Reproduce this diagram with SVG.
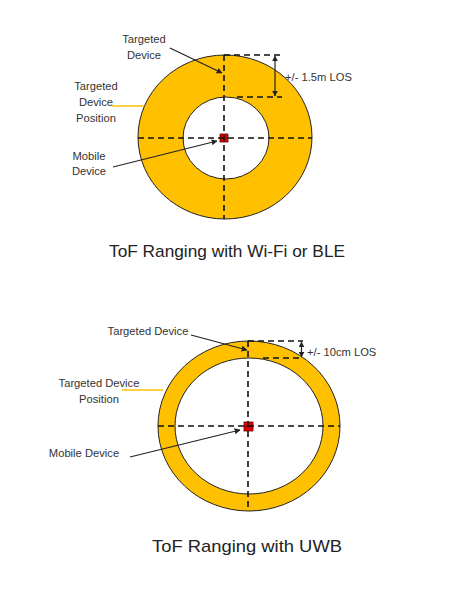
<svg xmlns="http://www.w3.org/2000/svg" width="458" height="592" viewBox="0 0 458 592">
<style>
.ring{fill:#FFC000;stroke:#222;stroke-width:1}
.hole{fill:#fff;stroke:#222;stroke-width:1}
.dash{stroke:#111;stroke-width:1.6;stroke-dasharray:6 4;fill:none}
.lbl{font-family:"Liberation Sans",Arial,sans-serif;font-size:11.2px;fill:#333;text-anchor:middle}
.title{font-family:"Liberation Sans",Arial,sans-serif;font-size:17px;fill:#222;text-anchor:middle}
.arr{stroke:#222;stroke-width:1.2;fill:none;marker-end:url(#ah)}
.dim{stroke:#222;stroke-width:1.2;fill:none;marker-end:url(#ah);marker-start:url(#ahs)}
.yl{stroke:#FFC000;stroke-width:1.5}
.mob{fill:#E00000;stroke:#600;stroke-width:0.8}
</style>
<defs>
<marker id="ah" viewBox="0 0 10 10" refX="9" refY="5" markerWidth="6" markerHeight="6" orient="auto" markerUnits="userSpaceOnUse"><path d="M0,0 L10,5 L0,10 z" fill="#222"/></marker>
<marker id="ahs" viewBox="0 0 10 10" refX="1" refY="5" markerWidth="6" markerHeight="6" orient="auto" markerUnits="userSpaceOnUse"><path d="M10,0 L0,5 L10,10 z" fill="#222"/></marker>
</defs>
<rect width="458" height="592" fill="#fff"/>

<g id="wifi-diagram">
<g id="wifi-ring">
<ellipse class="ring" cx="225" cy="137" rx="87" ry="82"/>
<ellipse class="hole" cx="226" cy="138" rx="43" ry="41"/>
</g>
<g id="wifi-mobile"><rect class="mob" x="220" y="134" width="8" height="8"/><line x1="220" y1="138" x2="228" y2="138" stroke="#600" stroke-width="0.6"/></g>
<g id="wifi-targeted-label">
<text class="lbl" x="144" y="43">Targeted</text>
<text class="lbl" x="144" y="59">Device</text>
</g>
<g id="wifi-position-label">
<text class="lbl" x="96" y="90">Targeted</text>
<text class="lbl" x="96" y="106">Device</text>
<text class="lbl" x="96" y="122">Position</text>
</g>
<g id="wifi-mobile-label">
<text class="lbl" x="89" y="160">Mobile</text>
<text class="lbl" x="89" y="175">Device</text>
</g>
<g id="wifi-range-label"><text class="lbl" x="285" y="81" style="text-anchor:start">+/- 1.5m LOS</text></g>
<text class="title" x="227" y="257" textLength="236" lengthAdjust="spacingAndGlyphs">ToF Ranging with Wi-Fi or BLE</text>
</g>

<g id="uwb-diagram">
<g id="uwb-ring">
<ellipse class="ring" cx="249" cy="426" rx="91" ry="85"/>
<ellipse class="hole" cx="249" cy="426" rx="74" ry="68"/>
</g>
<g id="uwb-mobile"><rect class="mob" x="244" y="422" width="9" height="9"/><line x1="244" y1="426.5" x2="253" y2="426.5" stroke="#600" stroke-width="0.6"/></g>
<g id="uwb-targeted-label"><text class="lbl" x="148" y="334.5">Targeted Device</text></g>
<g id="uwb-position-label">
<text class="lbl" x="99" y="386.5">Targeted Device</text>
<text class="lbl" x="99" y="403">Position</text>
</g>
<g id="uwb-mobile-label"><text class="lbl" x="84" y="456.5">Mobile Device</text></g>
<g id="uwb-range-label"><text class="lbl" x="307" y="356" style="text-anchor:start">+/- 10cm LOS</text></g>
<text class="title" x="247" y="552" textLength="190" lengthAdjust="spacingAndGlyphs">ToF Ranging with UWB</text>
</g>

<g id="connectors">
<line class="dash" x1="224" y1="55" x2="224" y2="219"/>
<line class="dash" x1="138" y1="138" x2="312" y2="138"/>
<line class="dash" x1="224" y1="55" x2="282" y2="55"/>
<line class="dash" x1="237" y1="97" x2="282" y2="97"/>
<line class="dim" x1="275" y1="56" x2="275" y2="96"/>
<line class="arr" x1="170" y1="48" x2="222" y2="73"/>
<line class="arr" x1="113" y1="167" x2="217" y2="141"/>
<line class="yl" x1="112" y1="106" x2="144" y2="106"/>
<line class="dash" x1="248" y1="341" x2="248" y2="511"/>
<line class="dash" x1="158" y1="426" x2="340" y2="426"/>
<line class="dash" x1="248" y1="341" x2="303" y2="341"/>
<line class="dash" x1="263" y1="358" x2="303" y2="358"/>
<line class="dim" x1="301.5" y1="342" x2="301.5" y2="357"/>
<line class="arr" x1="191" y1="335" x2="247" y2="350"/>
<line class="arr" x1="130" y1="457" x2="240" y2="430"/>
<line class="yl" x1="122" y1="390" x2="163" y2="390"/>
</g>
</svg>
